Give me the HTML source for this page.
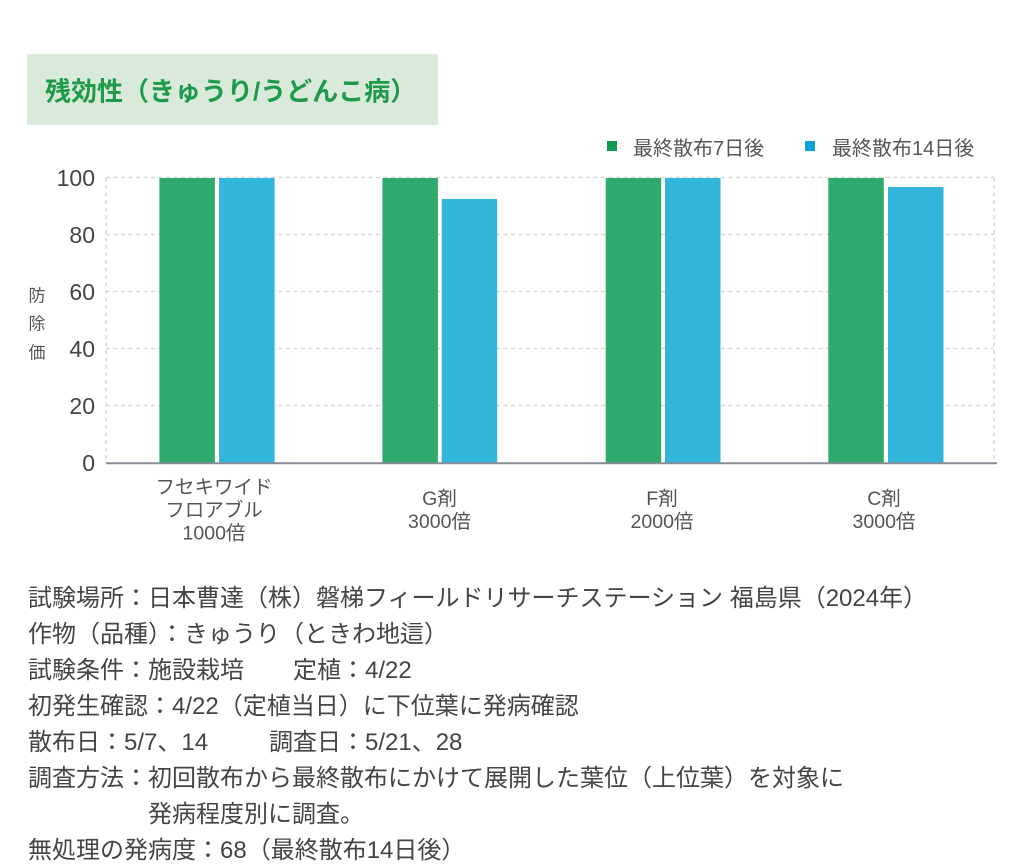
<!DOCTYPE html>
<html lang="ja">
<head>
<meta charset="utf-8">
<style>
  html, body { margin: 0; padding: 0; background: #fff; }
  body { width: 1024px; height: 868px; overflow: hidden; position: relative; }
  svg { position: absolute; left: 0; top: 0; }
  text { font-family: "Liberation Sans", "Noto Sans CJK JP", sans-serif; }
</style>
</head>
<body>
<svg width="1024" height="868" viewBox="0 0 1024 868" xmlns="http://www.w3.org/2000/svg">
  <!-- Title box -->
  <rect x="27" y="54" width="411" height="71" fill="#d9eada"/>
  <text x="45" y="100.5" font-size="26" font-weight="bold" fill="#1f9a4b">残効性（きゅうり/うどんこ病）</text>

  <!-- Legend -->
  <rect x="607" y="141" width="10" height="10" fill="#0f9a4e"/>
  <text x="633" y="155" font-size="20" fill="#555">最終散布7日後</text>
  <rect x="805" y="141" width="10" height="10" fill="#0ca3d8"/>
  <text x="832" y="155" font-size="20" fill="#555">最終散布14日後</text>

  <!-- Grid -->
  <g stroke="#d9d9d9" stroke-width="1.5" stroke-dasharray="4 3.5" fill="none">
    <line x1="106" y1="177.5" x2="994" y2="177.5"/>
    <line x1="106" y1="234.5" x2="994" y2="234.5"/>
    <line x1="106" y1="291.5" x2="994" y2="291.5"/>
    <line x1="106" y1="348.5" x2="994" y2="348.5"/>
    <line x1="106" y1="405.5" x2="994" y2="405.5"/>
    <line x1="106" y1="177.5" x2="106" y2="463"/>
    <line x1="994" y1="177.5" x2="994" y2="463"/>
  </g>

  <!-- Bars -->
  <g>
    <rect x="159.4" y="178" width="55.5" height="285" fill="#2fa96c"/>
    <rect x="219.1" y="178" width="55.5" height="285" fill="#33b5dc"/>

    <rect x="382.4" y="178" width="55.5" height="285" fill="#2fa96c"/>
    <rect x="441.7" y="199" width="55.5" height="264" fill="#33b5dc"/>

    <rect x="605.7" y="178" width="55.5" height="285" fill="#2fa96c"/>
    <rect x="665" y="178" width="55.5" height="285" fill="#33b5dc"/>

    <rect x="828.3" y="178" width="55.5" height="285" fill="#2fa96c"/>
    <rect x="888" y="187" width="55.5" height="276" fill="#33b5dc"/>
  </g>

  <!-- Baseline -->
  <line x1="106" y1="463.3" x2="997" y2="463.3" stroke="#8a8b94" stroke-width="2"/>

  <!-- Y ticks -->
  <g font-size="23" fill="#444" text-anchor="end">
    <text x="95" y="186">100</text>
    <text x="95" y="243">80</text>
    <text x="95" y="300">60</text>
    <text x="95" y="357">40</text>
    <text x="95" y="414">20</text>
    <text x="95" y="471">0</text>
  </g>

  <!-- Y title -->
  <g font-size="17" fill="#555" text-anchor="middle">
    <text x="37" y="301.5">防</text>
    <text x="37" y="329.5">除</text>
    <text x="37" y="358.5">価</text>
  </g>

  <!-- X labels -->
  <g font-size="19.5" fill="#555" text-anchor="middle">
    <text x="214" y="493.5">フセキワイド</text>
    <text x="214" y="516.5">フロアブル</text>
    <text x="214" y="539.5">1000倍</text>

    <text x="439.5" y="505">G剤</text>
    <text x="439.5" y="528">3000倍</text>

    <text x="662" y="505">F剤</text>
    <text x="662" y="528">2000倍</text>

    <text x="884" y="505">C剤</text>
    <text x="884" y="528">3000倍</text>
  </g>

  <!-- Notes -->
  <g font-size="24" fill="#444">
    <text x="28" y="606">試験場所：日本曹達（株）磐梯フィールドリサーチステーション 福島県（2024年）</text>
    <text x="28" y="642">作物（品種）：きゅうり（ときわ地這）</text>
    <text x="28" y="678">試験条件：施設栽培</text>
    <text x="293" y="678">定植：4/22</text>
    <text x="28" y="714">初発生確認：4/22（定植当日）に下位葉に発病確認</text>
    <text x="28" y="750">散布日：5/7、14</text>
    <text x="269" y="750">調査日：5/21、28</text>
    <text x="28" y="786">調査方法：初回散布から最終散布にかけて展開した葉位（上位葉）を対象に</text>
    <text x="148" y="822">発病程度別に調査。</text>
    <text x="28" y="858">無処理の発病度：68（最終散布14日後）</text>
  </g>
</svg>
</body>
</html>
